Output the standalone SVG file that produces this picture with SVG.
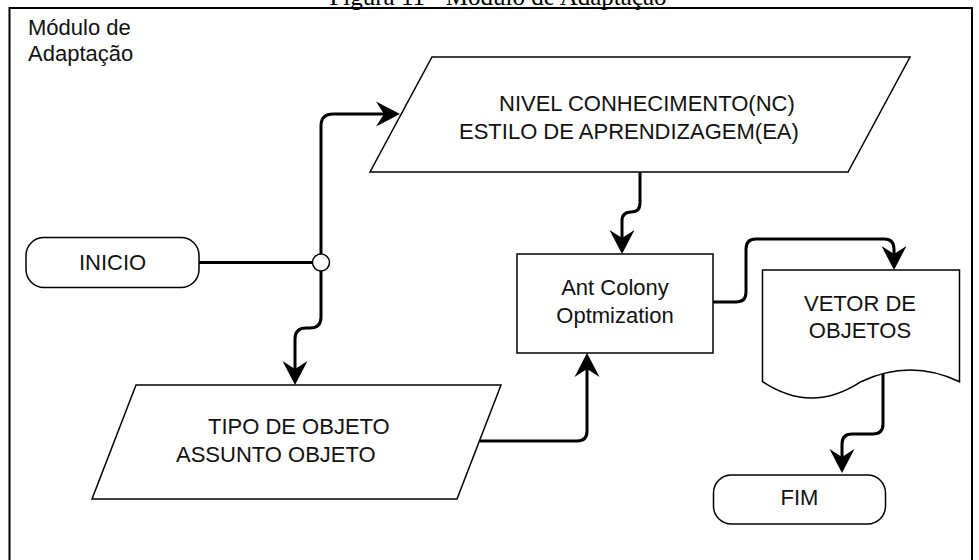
<svg xmlns="http://www.w3.org/2000/svg" width="979" height="560" viewBox="0 0 979 560">
<style>
.node{fill:#fff;stroke:#000;stroke-width:1.5}
.lbl{font-family:"Liberation Sans",Arial,sans-serif;font-size:22px;fill:#111}
.mid{text-anchor:middle}
.edge{fill:none;stroke:#000;stroke-width:3;stroke-linejoin:round}
.arr{marker-end:url(#ah)}
</style>
<defs>
<marker id="ah" viewBox="0 -13 26 26" refX="10" refY="0" markerWidth="26" markerHeight="26" orient="auto" markerUnits="userSpaceOnUse">
<path d="M24,0 L0,-12.5 L8,0 L0,12.5 Z" fill="#000"/>
</marker>
</defs>
<rect width="979" height="560" fill="#fff"/>
<text x="498" y="5" font-family="'Liberation Serif','Times New Roman',serif" font-size="25" text-anchor="middle" fill="#000">Figura 11 - Módulo de Adaptação</text>
<path d="M9.5,562 V8 H972 V562" fill="none" stroke="#000" stroke-width="2"/>
<g id="frame-label">
<text class="lbl" x="28" y="35">Módulo de</text>
<text class="lbl" x="28" y="60.5">Adaptação</text>
</g>
<g id="connectors">
<path class="edge" d="M199,262.5 H312.5"/>
<path class="edge arr" d="M321,254 V126 Q321,114 333,114 H386"/>
<path class="edge arr" d="M321,271 V317 Q321,328 310,328 H306 Q295,328 295,339 V371"/>
<path class="edge arr" d="M640,172 V203 Q640,212 631,212 Q622,212 622,221 V240"/>
<path class="edge arr" d="M480,441 H577 Q587,441 587,431 V367"/>
<path class="edge arr" d="M713,302 H736 Q746,302 746,292 V249 Q746,239 756,239 H884 Q894,239 894,249 V256"/>
<path class="edge arr" d="M883,371 V424 Q883,434 873,434 H852 Q842,434 842,444 V459"/>
</g>
<g id="junction">
<circle cx="321" cy="262.5" r="8.5" fill="#fff" stroke="#000" stroke-width="1.5"/>
</g>
<g id="inicio">
<rect class="node" x="26" y="237.5" width="173" height="50" rx="18"/>
<text class="lbl mid" x="112.5" y="270">INICIO</text>
</g>
<g id="nivel">
<polygon class="node" points="432,57 910,57 848,172 370,172"/>
<text class="lbl" x="499" y="110.5">NIVEL CONHECIMENTO(NC)</text>
<text class="lbl" x="459" y="138.5">ESTILO DE APRENDIZAGEM(EA)</text>
</g>
<g id="tipo">
<polygon class="node" points="136,385 501,385 457,499 92,499"/>
<text class="lbl" x="208" y="434">TIPO DE OBJETO</text>
<text class="lbl" x="176" y="461.5">ASSUNTO OBJETO</text>
</g>
<g id="aco">
<rect class="node" x="517" y="254" width="196" height="99"/>
<text class="lbl mid" x="615" y="295">Ant Colony</text>
<text class="lbl mid" x="615" y="323">Optmization</text>
</g>
<g id="vetor">
<path class="node" d="M762.5,270 H959.5 V381.7 Q910.3,358.3 861,381.7 Q811.7,414.3 762.5,381.7 Z"/>
<text class="lbl mid" x="860" y="311">VETOR DE</text>
<text class="lbl mid" x="860" y="337.5">OBJETOS</text>
</g>
<g id="fim">
<rect class="node" x="713.5" y="475" width="172" height="49" rx="18"/>
<text class="lbl mid" x="799.5" y="505">FIM</text>
</g>
</svg>
